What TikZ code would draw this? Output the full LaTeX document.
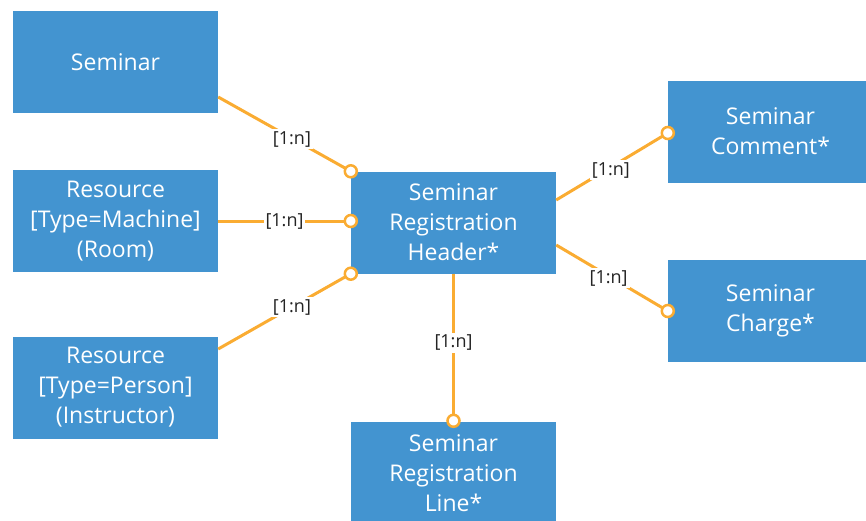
\documentclass[tikz,border=0pt]{standalone}
\usepackage{fontspec}
\setmainfont{Open Sans}
\usetikzlibrary{calc}
\definecolor{boxblue}{RGB}{67,148,208}
\definecolor{linkorange}{RGB}{250,172,50}
\definecolor{labelgray}{RGB}{35,35,35}
\begin{document}
\begin{tikzpicture}[x=1pt,y=-1pt,
  entity/.style={fill=boxblue, text=white, minimum width=205pt, minimum height=102pt,
    align=center, inner sep=0pt, font=\fontsize{23}{30}\selectfont},
  link/.style={draw=linkorange, line width=3pt},
  card/.style={fill=white, text=labelgray, font=\fontsize{18}{20}\selectfont, inner sep=2pt},
  endring/.style={draw=linkorange, line width=2.5pt, fill=white}]
\useasboundingbox (0,0) rectangle (866,520);
\clip (0,0) rectangle (866,520);

\node[entity] (sem)  at (115.5,62)    {Seminar};
\node[entity] (mach) at (115.5,221)   {Resource\\{[Type=Machine]}\\(Room)};
\node[entity] (pers) at (115.5,387.5) {Resource\\{[Type=Person]}\\(Instructor)};
\node[entity] (hdr)  at (453.5,222.5) {Seminar\\Registration\\Header*};
\node[entity] (com)  at (770.5,131.5) {Seminar\\Comment*};
\node[entity] (chg)  at (770.5,311)   {Seminar\\Charge*};
\node[entity] (lin)  at (453.5,473)   {Seminar\\Registration\\Line*};

\coordinate (semOut) at ($(sem.east)+(0,35)$);
\coordinate (hdrA) at (hdr.north west);
\coordinate (machOut) at (mach.east);
\coordinate (hdrB) at (hdr.west |- mach.east);
\coordinate (persOut) at ($(pers.east)+(0,-38.5)$);
\coordinate (hdrC) at (hdr.south west);
\coordinate (hdrD) at ($(hdr.east)+(0,-22.5)$);
\coordinate (comIn) at ($(com.west)+(0,1.5)$);
\coordinate (hdrE) at ($(hdr.east)+(0,22.5)$);
\coordinate (chgIn) at (chg.west);
\coordinate (hdrF) at (hdr.south);
\coordinate (linIn) at ($(lin.north)+(0,-1)$);

\draw[link] (semOut) -- (hdrA);
\draw[link] (machOut) -- (hdrB);
\draw[link] (persOut) -- (hdrC);
\draw[link] (hdrD) -- (comIn);
\draw[link] (hdrE) -- (chgIn);
\draw[link] (hdrF) -- (linIn);

\foreach \c in {hdrA,hdrB,hdrC,comIn,chgIn,linIn}
  \draw[endring] (\c) circle (6pt);

\path (semOut) -- (hdrA) node[card, pos=0.556, yshift=-1pt] (l1) {[1:n]};
\path (machOut) -- (hdrB) node[card, pos=0.5] (l2) {[1:n]};
\path (persOut) -- (hdrC) node[card, pos=0.556] (l3) {[1:n]};
\path (hdrD) -- (comIn) node[card, pos=0.49, yshift=-3pt] (l4) {[1:n]};
\path (hdrE) -- (chgIn) node[card, pos=0.47, yshift=-2pt] (l5) {[1:n]};
\path (hdrF) -- (linIn) node[card, pos=0.47] (l6) {[1:n]};
\end{tikzpicture}
\end{document}
